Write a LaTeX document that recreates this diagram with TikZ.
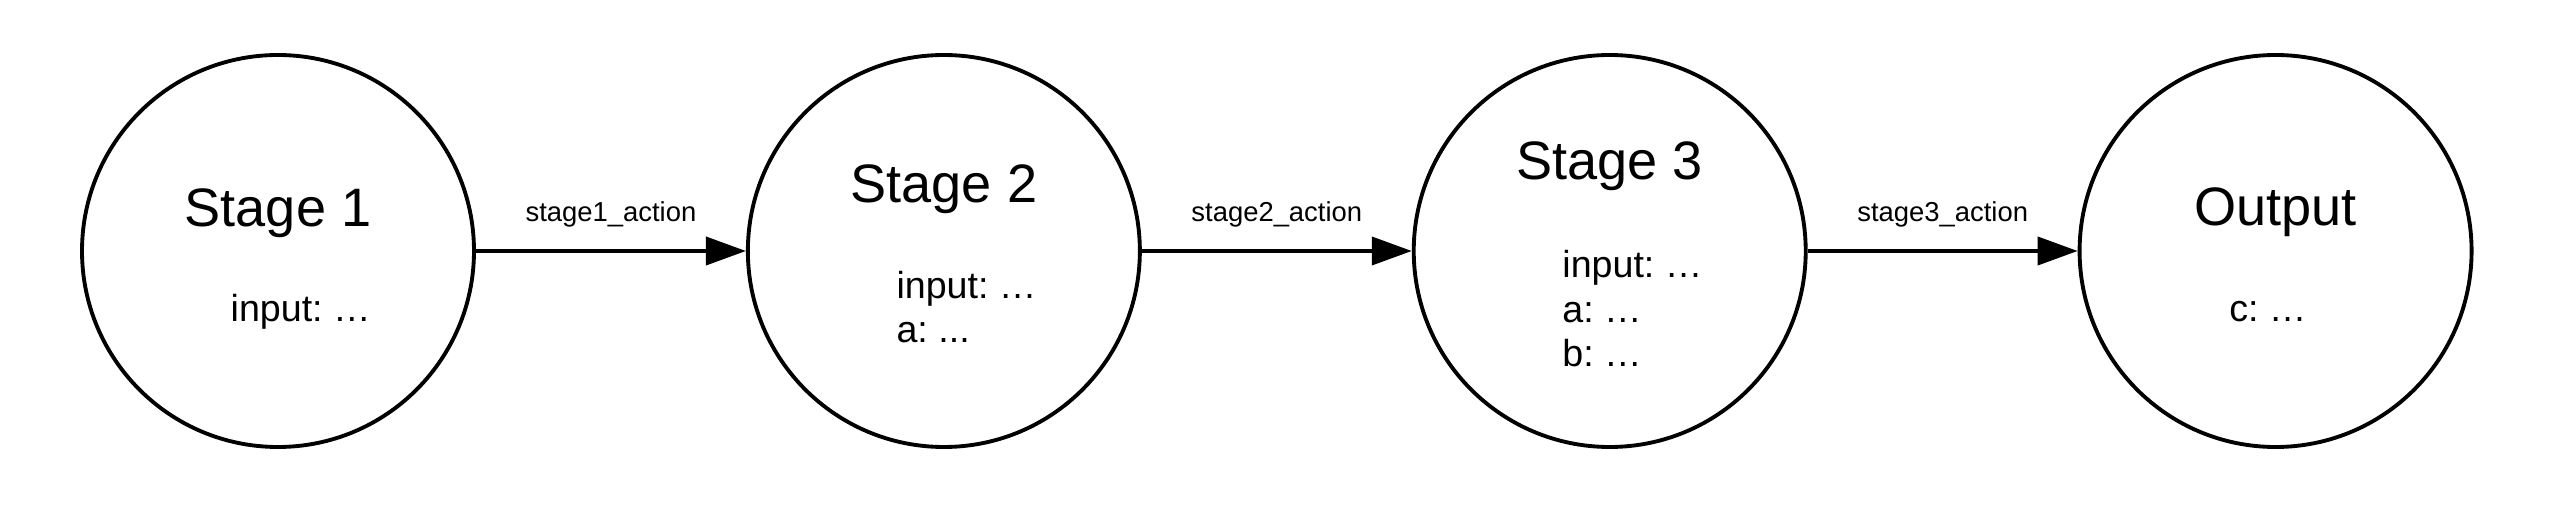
\documentclass[tikz,border=0pt]{standalone}
\usepackage{fontspec}
\setmainfont{Liberation Sans}
\frenchspacing
\usetikzlibrary{arrows.meta,positioning}

\begin{document}
\begin{tikzpicture}[>={Triangle[length=4mm,width=2.8mm]},
  stage/.style={circle,draw,line width=1.1pt,minimum size=3.92cm,inner sep=0pt},
  ttl/.style={anchor=base,inner sep=0pt,font=\fontsize{15.4}{18}\selectfont},
  body/.style={anchor=base west,align=left,inner sep=0pt,
    font=\fontsize{10.7}{12.8}\selectfont},
  arr/.style={->,line width=1.1pt},
  act/.style={anchor=base,inner sep=0pt,yshift=2.9mm,
    font=\fontsize{7.8}{9}\selectfont}]

\useasboundingbox (0,0) rectangle (25.74,5.08);

\node[stage] (s1) at (2.78,2.57) {};
\node[stage,right=2.70cm of s1] (s2) {};
\node[stage,right=2.70cm of s2] (s3) {};
\node[stage,right=2.70cm of s3] (out) {};

% body nodes sit on the baseline of their last line
\node[ttl] (s1t) at ([yshift=2.4mm]s1.center) {Stage 1};
\node[body] (s1b) at ([xshift=-4.8mm,yshift=-7.1mm]s1.center) {input: …};

\node[ttl] (s2t) at ([yshift=4.8mm]s2.center) {Stage 2};
\node[body] (s2b) at ([xshift=-4.8mm,yshift=-9.2mm]s2.center) {input: …\\a: ...};

\node[ttl] (s3t) at ([yshift=7.1mm]s3.center) {Stage 3};
\node[body] (s3b) at ([xshift=-4.8mm,yshift=-11.6mm]s3.center) {input: …\\a: …\\b: …};

\node[ttl] (outt) at ([yshift=2.5mm]out.center) {Output};
\node[body] (outb) at ([xshift=-4.7mm,yshift=-7.1mm]out.center) {c: …};

\draw[arr] (s1) -- node[act] (a1) {stage1\_action} (s2);
\draw[arr] (s2) -- node[act] (a2) {stage2\_action} (s3);
\draw[arr] (s3) -- node[act] (a3) {stage3\_action} (out);
\end{tikzpicture}
\end{document}
